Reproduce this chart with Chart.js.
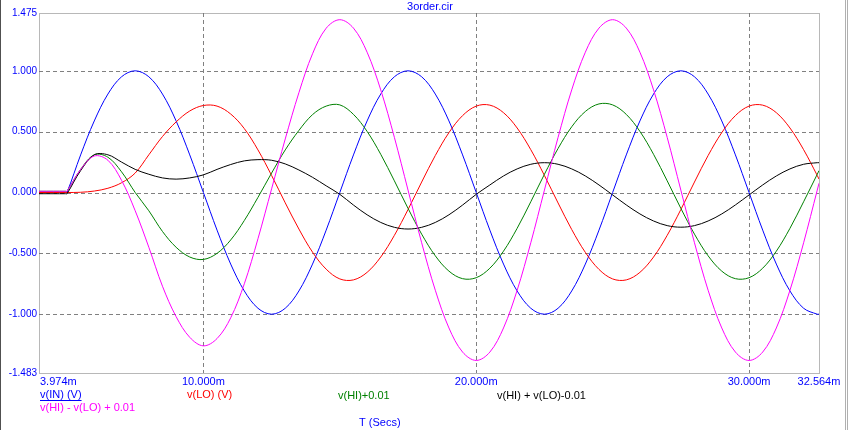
<!DOCTYPE html>
<html><head><meta charset="utf-8">
<script src="https://cdn.jsdelivr.net/npm/chart.js@4/dist/chart.umd.min.js"></script>
<style>html,body{margin:0;padding:0;background:#fff;}#wrap{position:relative;width:849px;height:430px;}</style>
</head><body><div id="wrap"><canvas id="c" width="849" height="430"></canvas></div>
<script>
// time axis (ms)
const timesMs = [3.974, 4.5, 4.95, 5.0, 5.5, 6.0, 6.5, 7.0, 7.5, 8.0, 8.5, 9.0, 9.5, 10.0, 10.5, 11.0, 11.5, 12.0, 12.5, 13.0, 13.5, 14.0, 14.5,
  15.0, 15.5, 16.0, 16.5, 17.0, 17.5, 18.0, 18.5, 19.0, 19.5, 20.0, 20.5, 21.0, 21.5, 22.0, 22.5, 23.0, 23.5, 24.0, 24.5,
  25.0, 25.5, 26.0, 26.5, 27.0, 27.5, 28.0, 28.5, 29.0, 29.5, 30.0, 30.5, 31.0, 31.5, 32.0, 32.5, 32.564];

const vIN = [0, 0, 0, 0, 0.309, 0.588, 0.809, 0.951, 1.0, 0.951, 0.809, 0.588, 0.309, 0, -0.309, -0.588, -0.809, -0.951, -1.0, -0.951, -0.809, -0.588, -0.309,
  0, 0.309, 0.588, 0.809, 0.951, 1.0, 0.951, 0.809, 0.588, 0.309, 0, -0.309, -0.588, -0.809, -0.951, -1.0, -0.951, -0.809, -0.588, -0.309,
  0, 0.309, 0.588, 0.809, 0.951, 1.0, 0.951, 0.809, 0.588, 0.309, 0, -0.309, -0.588, -0.809, -0.951, -1.0, -0.999];

const vLO = [0, 0, 0, 0, 0.002, 0.012, 0.035, 0.08, 0.16, 0.31, 0.46, 0.58, 0.67, 0.715, 0.71, 0.645, 0.525, 0.35, 0.14, -0.085, -0.30, -0.49, -0.63,
  -0.71, -0.718, -0.656, -0.530, -0.352, -0.140, 0.086, 0.304, 0.492, 0.632, 0.710, 0.718, 0.656, 0.530, 0.352, 0.140, -0.086, -0.304, -0.492, -0.632,
  -0.710, -0.718, -0.656, -0.530, -0.352, -0.140, 0.086, 0.304, 0.492, 0.632, 0.710, 0.718, 0.656, 0.530, 0.352, 0.140, 0.11];

const vHIplus = [0.01, 0.01, 0.01, 0.01, 0.19, 0.31, 0.29, 0.17, 0.0, -0.15, -0.32, -0.45, -0.53, -0.55, -0.50, -0.39, -0.23, -0.04, 0.16, 0.35, 0.51, 0.64, 0.71,
  0.72, 0.642, 0.502, 0.314, 0.096, -0.130, -0.342, -0.520, -0.646, -0.708, -0.700, -0.622, -0.482, -0.294, -0.076, 0.150, 0.362, 0.540, 0.666, 0.728,
  0.720, 0.642, 0.502, 0.314, 0.096, -0.130, -0.342, -0.520, -0.646, -0.708, -0.700, -0.622, -0.482, -0.294, -0.076, 0.150, 0.18];

const vSum = [-0.01, -0.01, -0.01, -0.01, 0.18, 0.31, 0.31, 0.25, 0.19, 0.15, 0.12, 0.11, 0.12, 0.145, 0.19, 0.23, 0.26, 0.27, 0.265, 0.235, 0.185, 0.125, 0.055,
  -0.015, -0.103, -0.183, -0.246, -0.286, -0.30, -0.286, -0.246, -0.183, -0.103, -0.015, 0.062, 0.136, 0.194, 0.232, 0.245, 0.232, 0.194, 0.136, 0.062,
  -0.02, -0.102, -0.176, -0.234, -0.272, -0.285, -0.272, -0.234, -0.176, -0.102, -0.02, 0.062, 0.136, 0.194, 0.232, 0.245, 0.245];

const vDiff = [0.01, 0.01, 0.01, 0.01, 0.19, 0.30, 0.265, 0.10, -0.15, -0.45, -0.77, -1.02, -1.19, -1.26, -1.20, -1.03, -0.75, -0.38, 0.03, 0.44, 0.82, 1.14, 1.35,
  1.42, 1.351, 1.153, 0.843, 0.453, 0.02, -0.413, -0.803, -1.113, -1.311, -1.38, -1.311, -1.113, -0.803, -0.413, 0.02, 0.453, 0.843, 1.153, 1.351,
  1.42, 1.351, 1.153, 0.843, 0.453, 0.02, -0.413, -0.803, -1.113, -1.311, -1.38, -1.311, -1.113, -0.803, -0.413, 0.02, 0.076];

const xTicks = [3.974, 10, 20, 30, 32.564];
const xTickLabels = ['3.974m', '10.000m', '20.000m', '30.000m', '32.564m'];
const yTicks = [1.475, 1.0, 0.5, 0, -0.5, -1.0, -1.483];
const yTickLabels = ['1.475', '1.000', '0.500', '0.000', '-0.500', '-1.000', '-1.483'];
const chartTitle = '3order.cir';
const xAxisTitle = 'T (Secs)';
const seriesNames = ['v(IN) (V)', 'v(LO) (V)', 'v(HI)+0.01', 'v(HI) + v(LO)-0.01', 'v(HI) - v(LO) + 0.01'];
const seriesColors = ['#0000ff', '#ff0000', '#008000', '#000000', '#ff00ff'];
const seriesValues = [vIN, vLO, vHIplus, vSum, vDiff];

const BLUE = '#0000ff';
const FONT = '"Liberation Sans", Arial, sans-serif';

const overlay = {
  id: 'overlay',
  beforeDatasetsDraw(chart) {
    const ctx = chart.ctx, a = chart.chartArea, xs = chart.scales.x, ys = chart.scales.y;
    ctx.save();
    ctx.strokeStyle = '#808080';
    ctx.lineWidth = 1;
    ctx.setLineDash([4, 3]);
    xTicks.forEach((v, i) => {
      if (i === 0 || i === xTicks.length - 1) return;
      const px = Math.round(xs.getPixelForValue(v)) + 0.5;
      ctx.beginPath(); ctx.moveTo(px, a.top); ctx.lineTo(px, a.bottom); ctx.stroke();
    });
    yTicks.forEach((v, i) => {
      if (i === 0 || i === yTicks.length - 1) return;
      const py = Math.round(ys.getPixelForValue(v)) + 0.5;
      ctx.beginPath(); ctx.moveTo(a.left, py); ctx.lineTo(a.right, py); ctx.stroke();
    });
    ctx.setLineDash([1, 1]);
    ctx.strokeStyle = '#707070';
    ctx.strokeRect(Math.round(a.left) + 0.5, Math.round(a.top) + 0.5, Math.round(a.right - a.left), Math.round(a.bottom - a.top));
    ctx.restore();
  },
  afterDraw(chart) {
    const ctx = chart.ctx, xs = chart.scales.x, ys = chart.scales.y;
    ctx.save();
    // window frame
    ctx.strokeStyle = '#505050'; ctx.lineWidth = 1;
    ctx.beginPath(); ctx.moveTo(0.5, 0); ctx.lineTo(0.5, 430); ctx.stroke();
    ctx.strokeStyle = '#b0b0b0';
    ctx.beginPath(); ctx.moveTo(845.5, 0); ctx.lineTo(845.5, 430); ctx.stroke();
    ctx.beginPath(); ctx.moveTo(847.5, 0); ctx.lineTo(847.5, 430); ctx.stroke();

    ctx.fillStyle = BLUE;
    ctx.textBaseline = 'middle';
    // title
    ctx.font = '11px ' + FONT;
    ctx.textAlign = 'center';
    ctx.fillText(chartTitle, 430, 7);
    // y tick labels
    ctx.font = '10px ' + FONT;
    ctx.textAlign = 'right';
    yTicks.forEach((v, i) => ctx.fillText(yTickLabels[i], 37, ys.getPixelForValue(v)));
    // x tick labels
    ctx.font = '11px ' + FONT;
    xTicks.forEach((v, i) => {
      const px = xs.getPixelForValue(v);
      ctx.textAlign = i === 0 ? 'left' : 'center';
      ctx.fillText(xTickLabels[i], i === 0 ? px + 1 : px, 382);
    });
    // legend
    const legendPos = [[40, 395], [187, 395], [338, 395.5], [497, 395.5], [40, 408]];
    ctx.textAlign = 'left';
    seriesNames.forEach((n, i) => {
      ctx.fillStyle = seriesColors[i];
      ctx.fillText(n, legendPos[i][0], legendPos[i][1]);
      if (i === 0) {
        const w = ctx.measureText(n).width;
        ctx.fillRect(legendPos[i][0], legendPos[i][1] + 5, w, 1);
      }
    });
    ctx.fillStyle = BLUE;
    ctx.fillText(xAxisTitle, 359, 423);
    ctx.restore();
  }
};

const datasets = seriesValues.map((vals, i) => ({
  label: seriesNames[i],
  data: timesMs.map((t, j) => ({ x: t, y: vals[j] })),
  borderColor: seriesColors[i],
  backgroundColor: seriesColors[i],
  borderWidth: 1,
  pointRadius: 0,
  fill: false,
  tension: 0.35,
  order: 4 - i
}));

new Chart(document.getElementById('c'), {
  type: 'line',
  data: { datasets },
  options: {
    responsive: false,
    animation: false,
    devicePixelRatio: 1,
    layout: { padding: { left: 39, right: 30, top: 13, bottom: 57 } },
    plugins: { legend: { display: false }, title: { display: false }, tooltip: { enabled: false } },
    scales: {
      x: { type: 'linear', min: 3.974, max: 32.564, display: false },
      y: { type: 'linear', min: -1.483, max: 1.475, display: false }
    }
  },
  plugins: [overlay]
});
</script>
</body></html>
